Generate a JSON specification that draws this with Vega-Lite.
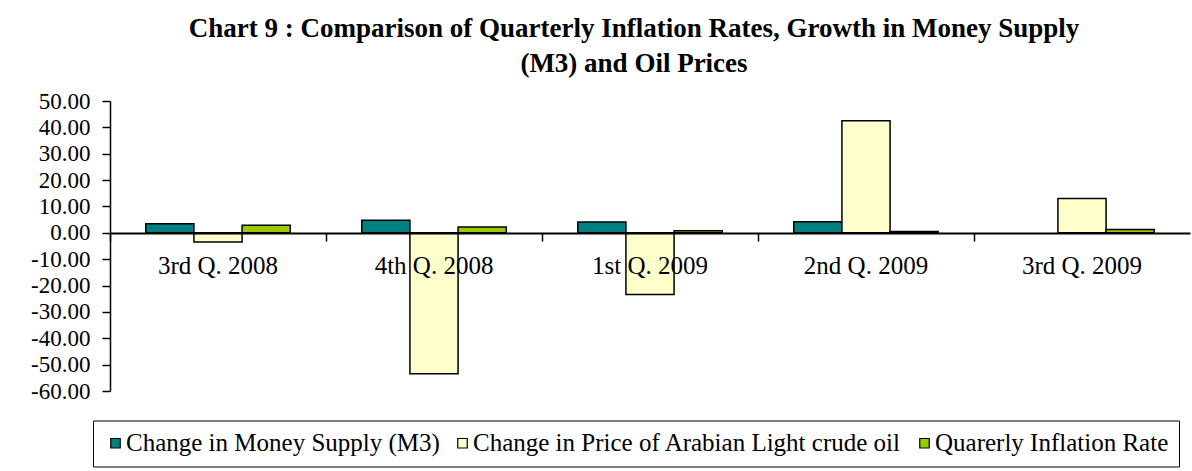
{
  "$schema": "https://vega.github.io/schema/vega-lite/v6.json",
  "width": 1080,
  "height": 290,
  "padding": {"left": 30, "top": 14, "right": 2, "bottom": 4},
  "autosize": {"type": "pad"},
  "background": "white",
  "config": {
    "view": {"stroke": null},
    "font": "Liberation Serif",
    "legend": {"labelFont": "Liberation Serif", "labelFontSize": 25},
    "title": {"font": "Liberation Serif"}
  },
  "title": {
    "text": ["Chart 9 : Comparison of Quarterly Inflation Rates, Growth in Money Supply", "(M3) and Oil Prices"],
    "font": "Liberation Serif",
    "fontSize": 27,
    "fontWeight": "bold",
    "lineHeight": 35,
    "anchor": "middle",
    "dx": -16,
    "offset": 12.5,
    "color": "black"
  },
  "data": {
    "values": [
      {"quarter": "3rd Q. 2008", "series": "Change in Money Supply (M3)", "value": 3.4},
      {"quarter": "3rd Q. 2008", "series": "Change in Price of Arabian Light crude oil", "value": -3.5},
      {"quarter": "3rd Q. 2008", "series": "Quarerly Inflation Rate", "value": 2.9},
      {"quarter": "4th Q. 2008", "series": "Change in Money Supply (M3)", "value": 4.8},
      {"quarter": "4th Q. 2008", "series": "Change in Price of Arabian Light crude oil", "value": -53.5},
      {"quarter": "4th Q. 2008", "series": "Quarerly Inflation Rate", "value": 2.2},
      {"quarter": "1st Q. 2009", "series": "Change in Money Supply (M3)", "value": 4.1},
      {"quarter": "1st Q. 2009", "series": "Change in Price of Arabian Light crude oil", "value": -23.4},
      {"quarter": "1st Q. 2009", "series": "Quarerly Inflation Rate", "value": 0.8},
      {"quarter": "2nd Q. 2009", "series": "Change in Money Supply (M3)", "value": 4.2},
      {"quarter": "2nd Q. 2009", "series": "Change in Price of Arabian Light crude oil", "value": 42.5},
      {"quarter": "2nd Q. 2009", "series": "Quarerly Inflation Rate", "value": 0.5},
      {"quarter": "3rd Q. 2009", "series": "Change in Price of Arabian Light crude oil", "value": 13.0},
      {"quarter": "3rd Q. 2009", "series": "Quarerly Inflation Rate", "value": 1.3}
    ]
  },
  "mark": {"type": "bar", "stroke": "black", "strokeWidth": 1.5},
  "encoding": {
    "x": {
      "field": "quarter",
      "type": "nominal",
      "sort": ["3rd Q. 2008", "4th Q. 2008", "1st Q. 2009", "2nd Q. 2009", "3rd Q. 2009"],
      "scale": {"paddingInner": 0, "paddingOuter": 0},
      "axis": {
        "title": null,
        "orient": "bottom",
        "offset": -158,
        "bandPosition": 0,
        "tickSize": 8,
        "tickColor": "black",
        "tickWidth": 1.5,
        "domainColor": "black",
        "domainWidth": 2,
        "labelAngle": 0,
        "labelFont": "Liberation Serif",
        "labelFontSize": 25,
        "labelColor": "black",
        "labelPadding": 12,
        "zindex": 1
      }
    },
    "xOffset": {
      "field": "series",
      "sort": ["Change in Money Supply (M3)", "Change in Price of Arabian Light crude oil", "Quarerly Inflation Rate"],
      "scale": {"paddingInner": 0, "paddingOuter": 0.743}
    },
    "y": {
      "field": "value",
      "type": "quantitative",
      "scale": {"domain": [-60, 50], "nice": false, "zero": false},
      "axis": {
        "title": null,
        "values": [-60, -50, -40, -30, -20, -10, 0, 10, 20, 30, 40, 50],
        "tickSize": 8,
        "tickColor": "black",
        "tickWidth": 1.5,
        "domainColor": "black",
        "domainWidth": 1.5,
        "grid": false,
        "labelFont": "Liberation Serif",
        "labelFontSize": 23,
        "labelColor": "black",
        "labelPadding": 12,
        "labelExpr": "replace(format(datum.value, '.2f'), '−', '-')"
      }
    },
    "color": {
      "field": "series",
      "type": "nominal",
      "scale": {
        "domain": ["Change in Money Supply (M3)", "Change in Price of Arabian Light crude oil", "Quarerly Inflation Rate"],
        "range": ["#008080", "#FFFFCC", "#99CC00"]
      },
      "legend": {
        "title": null,
        "orient": "none",
        "legendX": -17,
        "legendY": 319.5,
        "direction": "horizontal",
        "columns": 3,
        "symbolType": "square",
        "symbolSize": 90,
        "symbolStrokeColor": "black",
        "symbolStrokeWidth": 1.2,
        "labelFont": "Liberation Serif",
        "labelFontSize": 25,
        "labelColor": "black",
        "labelLimit": 600,
        "labelOffset": -2,
        "columnPadding": 10,
        "strokeColor": "black",
        "padding": 10
      }
    }
  }
}
